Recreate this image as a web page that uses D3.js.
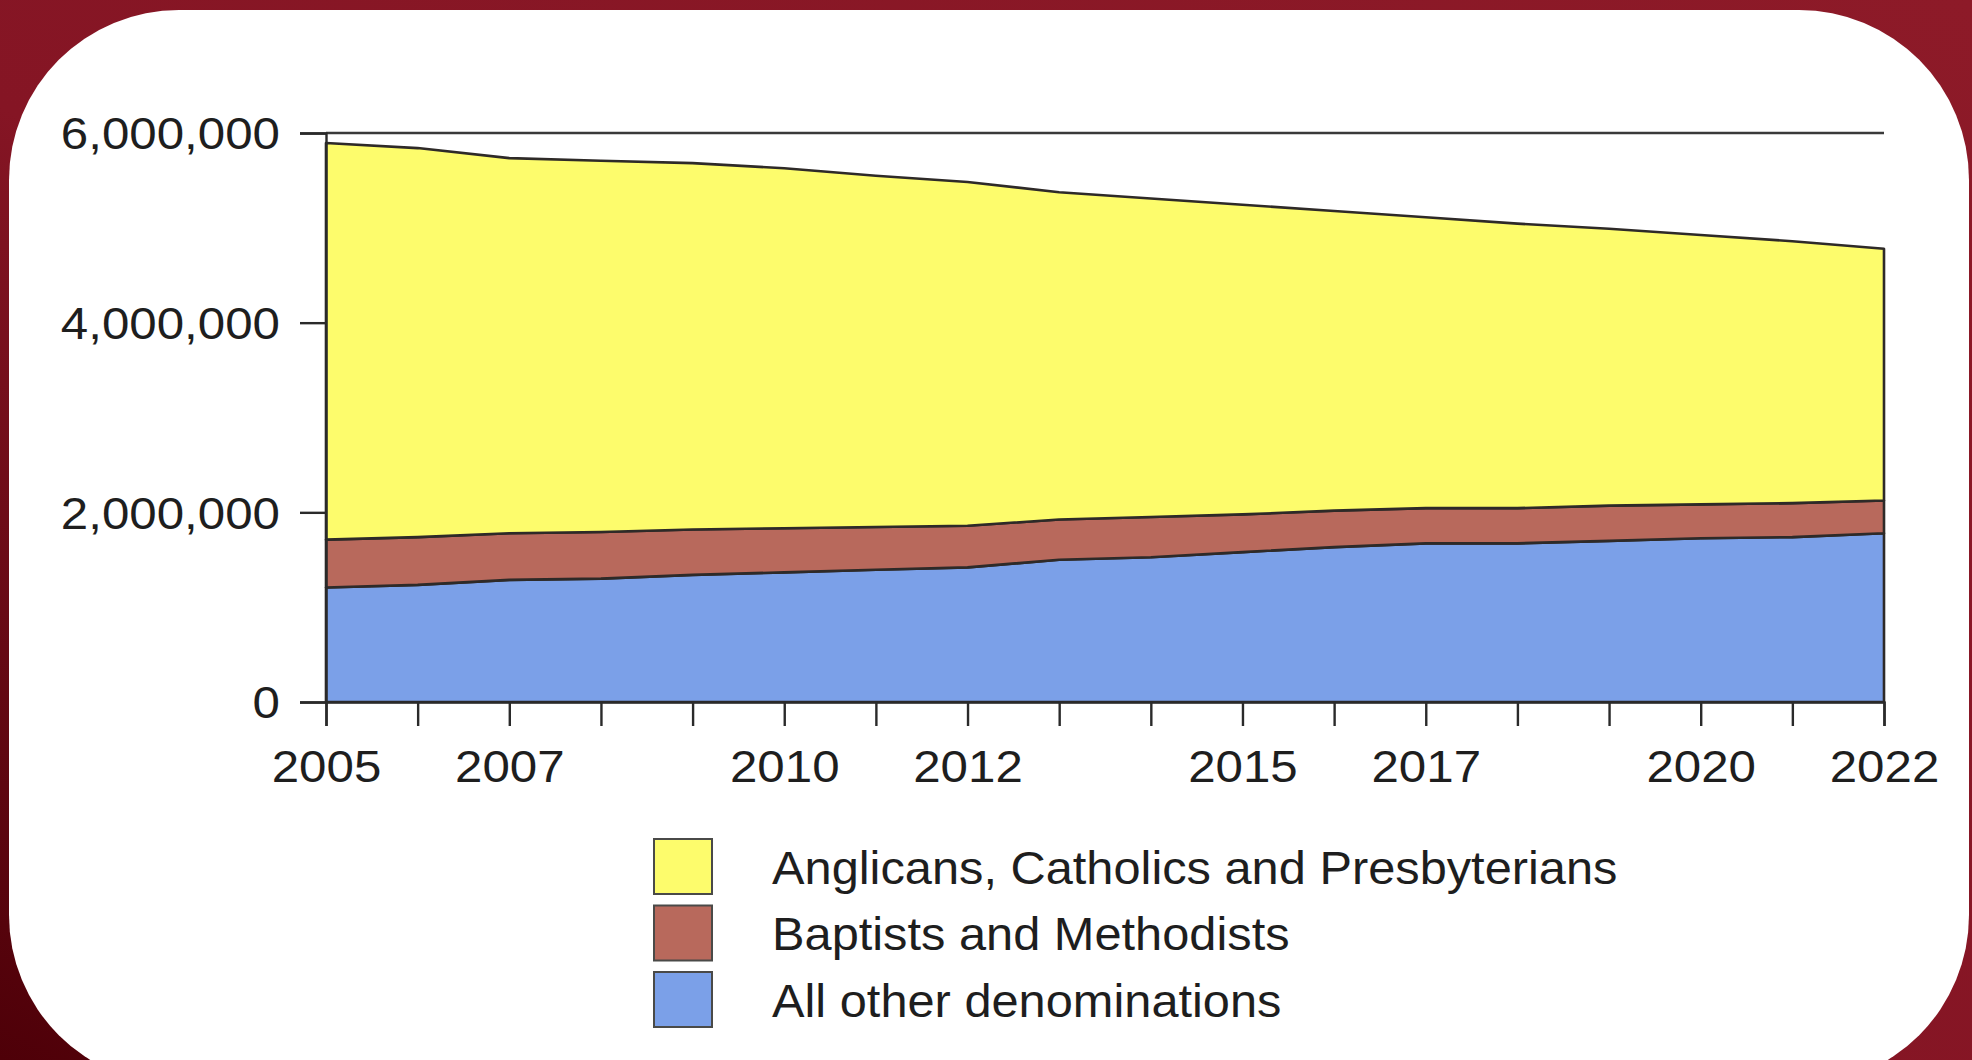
<!DOCTYPE html>
<html>
<head>
<meta charset="utf-8">
<script src="https://cdn.jsdelivr.net/npm/d3@7"></script>
<style>
  body { margin: 0; background: #8b1826; }
  svg { display: block; }
</style>
</head>
<body>
<svg id="chart"></svg>
<script>
const width = 1972;
const height = 1060;

// data (members)
const years = [2005, 2006, 2007, 2008, 2009, 2010, 2011, 2012, 2013, 2014, 2015, 2016, 2017, 2018, 2019, 2020, 2021, 2022];
const otherDenominations = [1208000, 1235000, 1288000, 1301000, 1341000, 1367000, 1394000, 1420000, 1500000, 1527000, 1580000, 1633000, 1673000, 1673000, 1699000, 1726000, 1739000, 1779000];
const baptistsMethodists = [504000, 504000, 491000, 491000, 478000, 465000, 451000, 438000, 425000, 424000, 398000, 385000, 371000, 371000, 372000, 358000, 358000, 345000];
const anglicansCatholicsPresbyterians = [4182000, 4102000, 3956000, 3916000, 3863000, 3797000, 3704000, 3625000, 3451000, 3359000, 3266000, 3159000, 3067000, 3000000, 2920000, 2841000, 2762000, 2655000];

const seriesNames = ["All other denominations", "Baptists and Methodists", "Anglicans, Catholics and Presbyterians"];
const legendOrder = ["Anglicans, Catholics and Presbyterians", "Baptists and Methodists", "All other denominations"];
const labelledYears = [2005, 2007, 2010, 2012, 2015, 2017, 2020, 2022];
const yTicks = [0, 2000000, 4000000, 6000000];

const colors = {
    "Anglicans, Catholics and Presbyterians": "#fdfc6c",
    "Baptists and Methodists": "#b8695c",
    "All other denominations": "#7ba0e8"
};

const rows = years.map((y, i) => ({
    year: y,
    "All other denominations": otherDenominations[i],
    "Baptists and Methodists": baptistsMethodists[i],
    "Anglicans, Catholics and Presbyterians": anglicansCatholicsPresbyterians[i]
}));

const svg = d3.select('svg#chart').attr('width', width).attr('height', height);

// background + white card
const defs = svg.append('defs');
const grad = defs.append('linearGradient').attr('id', 'bg')
    .attr('x1', '1').attr('y1', '0').attr('x2', '0').attr('y2', '1');
grad.append('stop').attr('offset', '0%').attr('stop-color', '#8d1a28');
grad.append('stop').attr('offset', '55%').attr('stop-color', '#851524');
grad.append('stop').attr('offset', '100%').attr('stop-color', '#4e0008');

svg.append('rect').attr('width', width).attr('height', height).attr('fill', 'url(#bg)');
svg.append('rect')
    .attr('x', 9).attr('y', 10)
    .attr('width', 1960).attr('height', 1075)
    .attr('rx', 170).attr('ry', 170)
    .attr('fill', '#ffffff');

const x = d3.scaleLinear().domain([2005, 2022]).range([326, 1884]);
const y = d3.scaleLinear().domain([0, 6000000]).range([702, 133]);

const stack = d3.stack().keys(seriesNames);
const layers = stack(rows);

const area = d3.area()
    .x(d => x(d.data.year))
    .y0(d => y(d[0]))
    .y1(d => y(d[1]));

const g = svg.append('g');

// top reference line at 6,000,000
g.append('line')
    .attr('x1', x(2005)).attr('x2', x(2022))
    .attr('y1', y(6000000)).attr('y2', y(6000000))
    .attr('stroke', '#3a3a3a')
    .attr('stroke-width', 2.4);

g.selectAll('path.layer')
    .data(layers)
    .join('path')
    .attr('class', 'layer')
    .attr('d', area)
    .attr('fill', d => colors[d.key])
    .attr('stroke', '#2e2a28')
    .attr('stroke-width', 2.6)
    .attr('stroke-linejoin', 'round');

const fmt = d3.format(',');

// y axis
const yAxis = g.append('g')
    .attr('transform', 'translate(' + x(2005) + ',0)')
    .call(d3.axisLeft(y).tickValues(yTicks).tickFormat(fmt).tickSize(26).tickPadding(20));

// x axis
const xAxis = g.append('g')
    .attr('transform', 'translate(0,' + y(0) + ')')
    .call(d3.axisBottom(x).tickValues(years).tickSize(24).tickPadding(25)
        .tickFormat(d => labelledYears.includes(d) ? String(d) : ''));

[yAxis, xAxis].forEach(ax => {
    ax.select('.domain').attr('stroke', '#2a2a2a').attr('stroke-width', 2.4);
    ax.selectAll('.tick line').attr('stroke', '#2a2a2a').attr('stroke-width', 2.4);
    ax.selectAll('.tick text')
        .attr('fill', '#1e1e1e')
        .attr('font-family', 'Liberation Sans, Arial, sans-serif')
        .attr('font-size', 44)
        .attr('transform', 'scale(1.12,1)');
});
yAxis.selectAll('.tick text').attr('x', -46 / 1.12).attr('dy', '0.36em');

// legend
const legend = svg.append('g').attr('transform', 'translate(654,839)');
const item = legend.selectAll('g.item')
    .data(legendOrder)
    .join('g')
    .attr('class', 'item')
    .attr('transform', (d, i) => 'translate(0,' + (i * 66.5) + ')');

item.append('rect')
    .attr('width', 58).attr('height', 55)
    .attr('fill', d => colors[d])
    .attr('stroke', '#4a4a48')
    .attr('stroke-width', 2);

item.append('text')
    .attr('transform', 'translate(118,28) scale(1.06,1)')
    .attr('dy', '0.36em')
    .attr('fill', '#1e1e1e')
    .attr('font-family', 'Liberation Sans, Arial, sans-serif')
    .attr('font-size', 46)
    .text(d => d);
</script>
</body>
</html>
